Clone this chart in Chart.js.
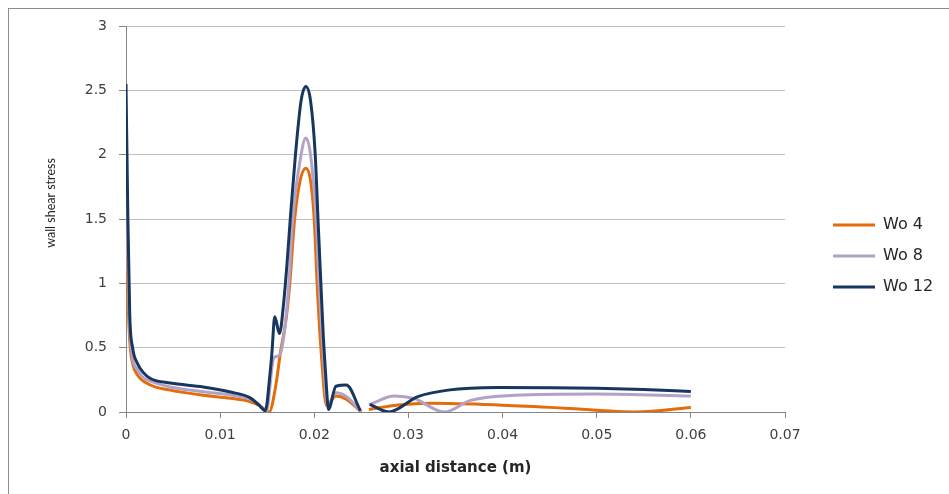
<!DOCTYPE html>
<html>
<head>
<meta charset="utf-8">
<script src="https://cdn.jsdelivr.net/npm/chart.js@4.4.1/dist/chart.umd.min.js"></script>
<style>
  html, body { margin: 0; padding: 0; background: #ffffff; overflow: hidden; }
  #wrap { position: relative; width: 949px; height: 494px; }
  #wrap canvas { position: absolute; left: 0; top: 0; }
  /* outer chart frame (only its top and left edges fall inside the page) */
  #frame { position: absolute; left: 8px; top: 8px; width: 1200px; height: 900px;
           border: 1px solid #8c8c8c; pointer-events: none; }
</style>
</head>
<body>
<div id="wrap">
  <canvas id="chart" width="949" height="494"></canvas>
  <div id="frame"></div>
</div>
<script>
// Wall shear stress along the axial distance for three Womersley numbers.
// A null entry breaks the line where there is no data.
const wo4X = [0, 0.0002, 0.0004, 0.0007, 0.0012, 0.0026, 0.0047, 0.0082, 0.0111, 0.0132, 0.0143, 0.0152,
              0.0159, 0.0164, 0.0170, 0.0174, 0.0179, 0.0185, 0.0191, 0.0196, 0.0200, 0.0203, 0.0207, 0.0213,
              0.0223, 0.0234, 0.0250, 0.0254,
              0.0258, 0.0289, 0.0324, 0.0395, 0.0466, 0.0542, 0.0600];
const wo4Y = [1.45, 0.90, 0.55, 0.38, 0.29, 0.21, 0.17, 0.13, 0.107, 0.08, 0.045, 0.0,
              0.20, 0.46, 0.72, 1.00, 1.49, 1.80, 1.895, 1.80, 1.49, 1.00, 0.50, 0.05,
              0.125, 0.10, 0.0, null,
              0.02, 0.055, 0.068, 0.055, 0.03, 0.0, 0.035];

const wo8X = [0, 0.0002, 0.0004, 0.0007, 0.0012, 0.0018, 0.0026, 0.0047, 0.0082, 0.0111, 0.0132, 0.0141, 0.0149,
              0.0157, 0.0163, 0.0168, 0.0173, 0.0177, 0.0186, 0.0191, 0.0196, 0.0202, 0.0205, 0.0209, 0.0214,
              0.0223, 0.0234, 0.0250, 0.0254,
              0.0258, 0.0285, 0.0306, 0.0338, 0.0366, 0.0413, 0.0500, 0.0600];
const wo8Y = [2.05, 1.20, 0.65, 0.42, 0.33, 0.27, 0.24, 0.195, 0.158, 0.132, 0.10, 0.06, 0.005,
              0.42, 0.44, 0.61, 1.00, 1.49, 2.00, 2.13, 2.00, 1.49, 1.00, 0.50, 0.05,
              0.15, 0.12, 0.0, null,
              0.055, 0.125, 0.105, 0.0, 0.09, 0.13, 0.14, 0.125];

const wo12X = [0, 0.0002, 0.0004, 0.0007, 0.0012, 0.0018, 0.0026, 0.0047, 0.0082, 0.0111, 0.0132, 0.0141, 0.0148,
               0.0153, 0.0155, 0.0158, 0.0163, 0.01675, 0.0171, 0.0175, 0.0180, 0.0186, 0.0191, 0.0196, 0.0201,
               0.0204, 0.0207, 0.02095, 0.0212, 0.0214, 0.0215, 0.0223, 0.0234, 0.0249, 0.0254,
               0.0259, 0.0279, 0.0310, 0.0342, 0.0395, 0.0450, 0.0500, 0.0550, 0.0600];
const wo12Y = [2.55, 1.50, 0.75, 0.50, 0.38, 0.31, 0.26, 0.225, 0.195, 0.155, 0.11, 0.055, 0.01,
               0.30, 0.46, 0.74, 0.61, 0.85, 1.15, 1.55, 2.00, 2.42, 2.53, 2.42, 2.00,
               1.49, 1.00, 0.60, 0.30, 0.08, 0.02, 0.20, 0.21, 0.01, null,
               0.06, 0.0, 0.12, 0.17, 0.19, 0.188, 0.184, 0.175, 0.16];

const seriesNames = ['Wo 4', 'Wo 8', 'Wo 12'];
const seriesColors = ['#E46C0A', '#B3A2C7', '#17375E'];

const xTickValues = [0, 0.01, 0.02, 0.03, 0.04, 0.05, 0.06, 0.07];
const xTickLabels = ['0', '0.01', '0.02', '0.03', '0.04', '0.05', '0.06', '0.07'];
const yTickValues = [0, 0.5, 1, 1.5, 2, 2.5, 3];
const yTickLabels = ['0', '0.5', '1', '1.5', '2', '2.5', '3'];

const xTitle = 'axial distance (m)';
const yTitle = 'wall shear stress';

const toPoints = (xs, ys) => xs.map((x, i) => ({ x: x, y: ys[i] }));
const seriesPoints = [toPoints(wo4X, wo4Y), toPoints(wo8X, wo8Y), toPoints(wo12X, wo12Y)];

const axisGray = '#868686';
const tickFont = { family: 'DejaVu Sans', size: 14 };
const legendFont = { family: 'DejaVu Sans', size: 16 };

// Legend geometry: the key column starts a fixed distance right of the plot,
// so the right padding is worked out from the widest legend label.
const legendPad = 15, legendSwatch = 42, legendLeftEdge = 818, plotRight = 785;
const measure = document.createElement('canvas').getContext('2d');
measure.font = legendFont.size + 'px "' + legendFont.family + '"';
const widestLabel = Math.max(...seriesNames.map(n => measure.measureText(n).width));
const legendWidth = legendPad + legendSwatch + legendFont.size / 2 + widestLabel + 10;
const rightPad = Math.max(0, 949 - legendLeftEdge - legendWidth);

// Vertical axis title, centred a little above the middle of the plot.
const yTitlePlugin = {
  id: 'yTitle',
  afterDraw(chart) {
    const { ctx, chartArea } = chart;
    ctx.save();
    ctx.translate(chartArea.left - 75, chartArea.top + 177);
    ctx.rotate(-Math.PI / 2);
    ctx.font = '12.5px Lato';
    ctx.fillStyle = '#262626';
    ctx.textAlign = 'center';
    ctx.textBaseline = 'middle';
    ctx.fillText(yTitle, 0, 0);
    ctx.restore();
  }
};

new Chart(document.getElementById('chart'), {
  type: 'line',
  data: {
    datasets: seriesPoints.map((pts, i) => ({
      label: seriesNames[i],
      data: pts,
      borderColor: seriesColors[i],
      backgroundColor: seriesColors[i],
      borderWidth: 3,
      pointRadius: 0,
      pointHoverRadius: 0,
      cubicInterpolationMode: 'monotone',
      spanGaps: false,
      fill: false,
      order: 3 - i   // darker series drawn over the lighter ones
    }))
  },
  plugins: [yTitlePlugin],
  options: {
    responsive: false,
    animation: false,
    events: [],
    layout: { padding: { top: 26, right: rightPad, bottom: 8, left: 0 } },
    plugins: {
      tooltip: { enabled: false },
      legend: {
        position: 'right',
        labels: {
          sort: (a, b) => a.datasetIndex - b.datasetIndex,
          usePointStyle: true,
          pointStyle: 'line',
          pointStyleWidth: legendSwatch,
          padding: legendPad,
          color: '#262626',
          font: legendFont
        }
      }
    },
    scales: {
      x: {
        type: 'linear',
        min: 0,
        max: 0.07,
        afterBuildTicks: s => { s.ticks = xTickValues.map(v => ({ value: v })); },
        afterFit: s => { s.height = 74; },
        ticks: {
          autoSkip: false,
          maxRotation: 0,
          padding: 9,
          color: '#404040',
          font: tickFont,
          callback: (v, i) => xTickLabels[i]
        },
        grid: { drawOnChartArea: false, drawTicks: true, tickLength: 6, tickColor: axisGray },
        border: { color: axisGray, width: 1 },
        title: {
          display: true,
          text: xTitle,
          color: '#262626',
          font: { family: 'DejaVu Sans', size: 15, weight: 'bold' },
          padding: { top: 0, bottom: 9 }
        }
      },
      y: {
        type: 'linear',
        position: 'left',
        min: 0,
        max: 3,
        afterBuildTicks: s => { s.ticks = yTickValues.map(v => ({ value: v })); },
        afterFit: s => { s.width = 126; },
        ticks: {
          padding: 12,
          color: '#404040',
          font: tickFont,
          callback: (v, i) => yTickLabels[i]
        },
        grid: { color: '#bfbfbf', lineWidth: 1, drawTicks: true, tickLength: 7, tickColor: axisGray },
        border: { color: axisGray, width: 1 }
      },
      // empty right-hand axis that keeps a gap between the plot and the legend
      gap: {
        type: 'linear',
        position: 'right',
        display: true,
        afterFit: s => { s.width = legendLeftEdge - plotRight; },
        ticks: { display: false },
        grid: { display: false },
        border: { display: false }
      }
    }
  }
});
</script>
</body>
</html>
